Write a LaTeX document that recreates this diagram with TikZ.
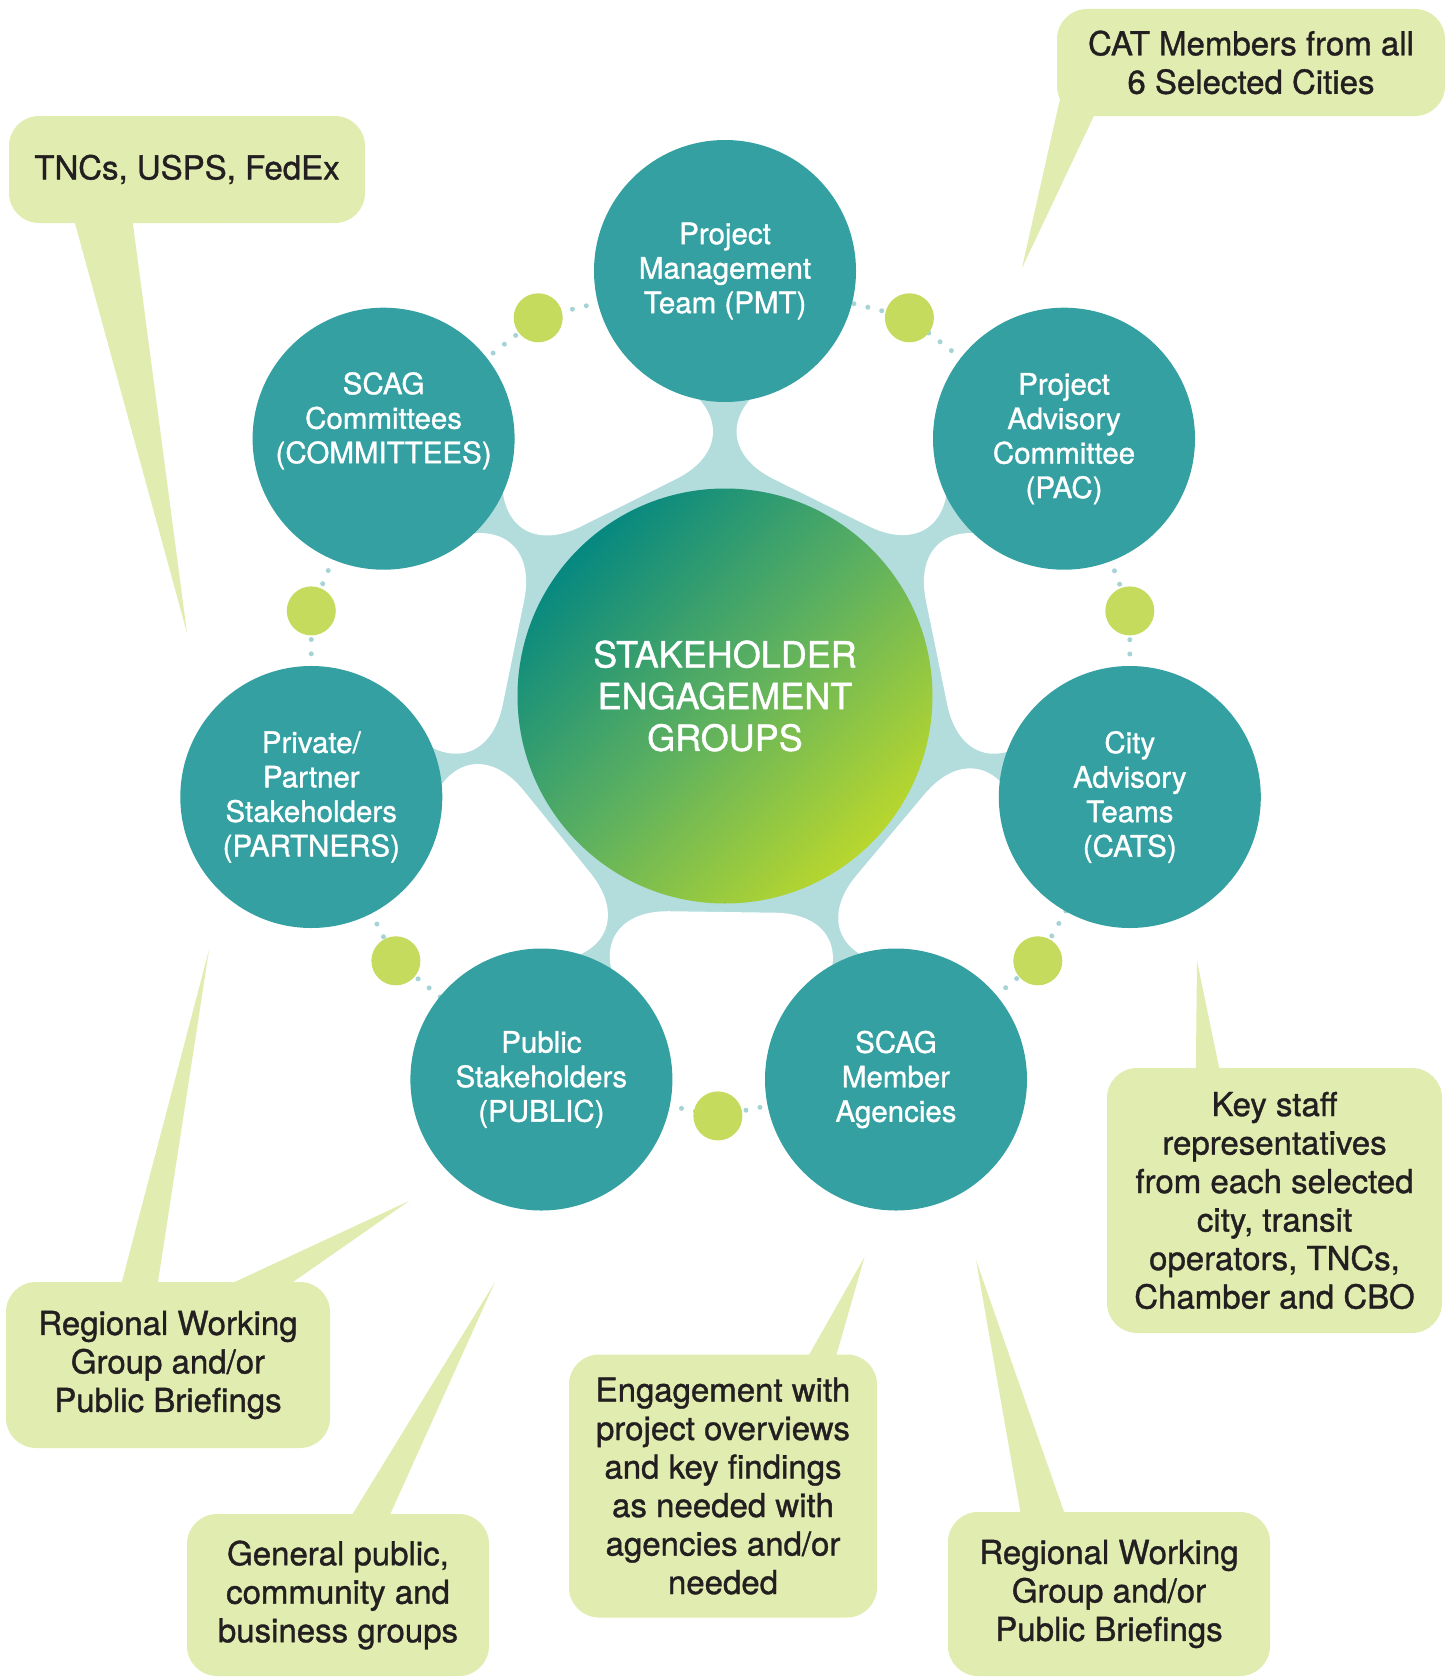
\documentclass[tikz,border=0pt]{standalone}
\usepackage{fontspec}
\setmainfont{TeX Gyre Heros}[FakeBold=1.1]
\usetikzlibrary{calc}

\definecolor{satteal}{RGB}{52,160,161}
\definecolor{neckteal}{RGB}{179,221,221}
\definecolor{dotteal}{RGB}{166,212,214}
\definecolor{dotgreen}{RGB}{196,219,94}
\definecolor{callgreen}{RGB}{225,236,177}
\definecolor{calltext}{RGB}{35,31,32}
\definecolor{gradteal}{RGB}{6,136,128}
\definecolor{gradmid}{RGB}{92,176,96}
\definecolor{gradlime}{RGB}{184,215,46}

\tikzset{
  sat/.style={circle, fill=satteal, minimum size=262pt, inner sep=0pt, text=white, align=center, font=\fontsize{29.5}{34.5}\selectfont},
  gdot/.style={circle, fill=dotgreen, minimum size=49pt, inner sep=0pt},
  ringdots/.style={draw=dotteal, line width=5pt, line cap=round, dash pattern=on 0pt off 14.3pt},
  callout/.style={fill=callgreen, rounded corners=30pt, inner sep=0pt, align=center, text=calltext, font=\fontsize{33}{38.5}\selectfont},
  tail/.style={fill=callgreen},
}

\begin{document}
\begin{tikzpicture}[x=1pt, y=-1pt, line cap=round, line join=round]

\useasboundingbox (0,0) rectangle (1455,1678);

% centri
\coordinate (ctr) at (725,696);
\coordinate (pmtC) at (725,271);
\coordinate (commC) at (383.6,438.7);
\coordinate (pacC) at (1064,438.7);
\coordinate (partC) at (311.3,797);
\coordinate (catsC) at (1129.8,797);
\coordinate (publC) at (541.4,1079.5);
\coordinate (scagC) at (896,1079.5);

% pallini verdi
\coordinate (d1) at (538.2,317.8);
\coordinate (d2) at (909.4,317.8);
\coordinate (d3) at (311.3,610.9);
\coordinate (d4) at (1129.8,610.9);
\coordinate (d5) at (395.9,960.8);
\coordinate (d6) at (1037.8,960.8);
\coordinate (d7) at (717.9,1115.9);

% rami azzurri
\fill[neckteal] (pmtC) -- (pacC) -- (catsC) -- (scagC) -- (publC) -- (partC) -- (commC) -- cycle;

% lobi bianchi tra i rami
\foreach \a in {63.6,11.6,-40,-90.8,-141,168.4,116.5}{
  \begin{scope}[shift={(ctr)}, rotate=\a]
    \fill[white, rounded corners=95pt] (216,-148) -- (216,148) -- (470,0) -- cycle;
    \fill[white] (330,-80) -- (330,80) -- (650,250) -- (650,-250) -- cycle;
  \end{scope}
}

% anello puntinato
\foreach \p/\q in {pmtC/d1, d1/commC, commC/d3, d3/partC, partC/d5, d5/publC, publC/d7,
                   d7/scagC, scagC/d6, d6/catsC, catsC/d4, d4/pacC, pacC/d2, d2/pmtC}
  \draw[ringdots] (\p) -- (\q);

\foreach \d in {d1,d2,d3,d4,d5,d6,d7}
  \node[gdot] (g\d) at (\d) {};

% gruppi
\node[sat] (pmt) at (pmtC) {Project\\Management\\Team (PMT)};
\node[sat, text depth=42pt] (comm) at (commC) {SCAG\\Committees\\(COMMITTEES)};
\node[sat] (pac) at (pacC) {Project\\Advisory\\Committee\\(PAC)};
\node[sat] (part) at (partC) {Private/\\Partner\\Stakeholders\\(PARTNERS)};
\node[sat] (cats) at (catsC) {City\\Advisory\\Teams\\(CATS)};
\node[sat] (publ) at (publC) {Public\\Stakeholders\\(PUBLIC)};
\node[sat] (scag) at (scagC) {SCAG\\Member\\Agencies};

% cerchio centrale
\node[circle, minimum size=415pt, inner sep=0pt, shade, top color=gradteal, bottom color=gradlime,
      middle color=gradmid, shading angle=45, text=white, align=center,
      font=\fontsize{36}{41.7}\selectfont] (core) at (ctr) {STAKEHOLDER\\ENGAGEMENT\\GROUPS};

% fumetti
\node[callout, minimum width=356pt, minimum height=107pt] (tnc) at (187,169.5) {TNCs, USPS, FedEx};
\node[callout, minimum width=388pt, minimum height=107pt] (cat) at (1251,62.5) {CAT Members from all\\6 Selected Cities};
\node[callout, minimum width=324pt, minimum height=166pt] (rwgl) at (168,1365) {Regional Working\\Group and/or\\Public Briefings};
\node[callout, minimum width=302pt, minimum height=162pt] (genpub) at (338,1595) {General public,\\community and\\business groups};
\node[callout, minimum width=308pt, minimum height=263pt] (eng) at (723,1486) {Engagement with\\project overviews\\and key findings\\as needed with\\agencies and/or\\needed};
\node[callout, minimum width=322pt, minimum height=164pt] (rwgr) at (1109,1594) {Regional Working\\Group and/or\\Public Briefings};
\node[callout, minimum width=335pt, minimum height=265pt] (key) at (1274.5,1200.5) {Key staff\\representatives\\from each selected\\city, transit\\operators, TNCs,\\Chamber and CBO};

% punte dei fumetti
\coordinate (tncTip) at (187,633);
\coordinate (catTip) at (1022,268);
\coordinate (rwglTipA) at (209,950);
\coordinate (rwglTipB) at (409,1201);
\coordinate (genpubTip) at (495,1282);
\coordinate (engTip) at (864.5,1257);
\coordinate (rwgrTip) at (976,1260);
\coordinate (keyTip) at (1197,961);

\fill[tail] ([xshift=64pt,yshift=8pt]tnc.south west) -- (tncTip) -- ([xshift=123pt,yshift=8pt]tnc.south west) -- cycle;
\fill[tail] ([xshift=4pt,yshift=21pt]cat.south west) -- (catTip) -- ([xshift=37pt]cat.south west)
  -- ([xshift=30pt,yshift=30pt]cat.south west) -- cycle;
\fill[tail] ([xshift=114pt,yshift=-8pt]rwgl.north west) -- (rwglTipA) -- ([xshift=151pt,yshift=-8pt]rwgl.north west) -- cycle;
\fill[tail] ([xshift=212pt,yshift=-8pt]rwgl.north west) -- (rwglTipB) -- ([xshift=276pt,yshift=-8pt]rwgl.north west) -- cycle;
\fill[tail] ([xshift=161pt,yshift=-8pt]genpub.north west) -- (genpubTip) -- ([xshift=200pt,yshift=-8pt]genpub.north west) -- cycle;
\fill[tail] ([xshift=236pt,yshift=-8pt]eng.north west) -- (engTip) -- ([xshift=265.5pt,yshift=-8pt]eng.north west) -- cycle;
\fill[tail] ([xshift=74pt,yshift=-8pt]rwgr.north west) -- (rwgrTip) -- ([xshift=119pt,yshift=-8pt]rwgr.north west) -- cycle;
\fill[tail] ([xshift=89pt,yshift=-8pt]key.north west) -- (keyTip) -- ([xshift=114pt,yshift=-8pt]key.north west) -- cycle;

\end{tikzpicture}
\end{document}
